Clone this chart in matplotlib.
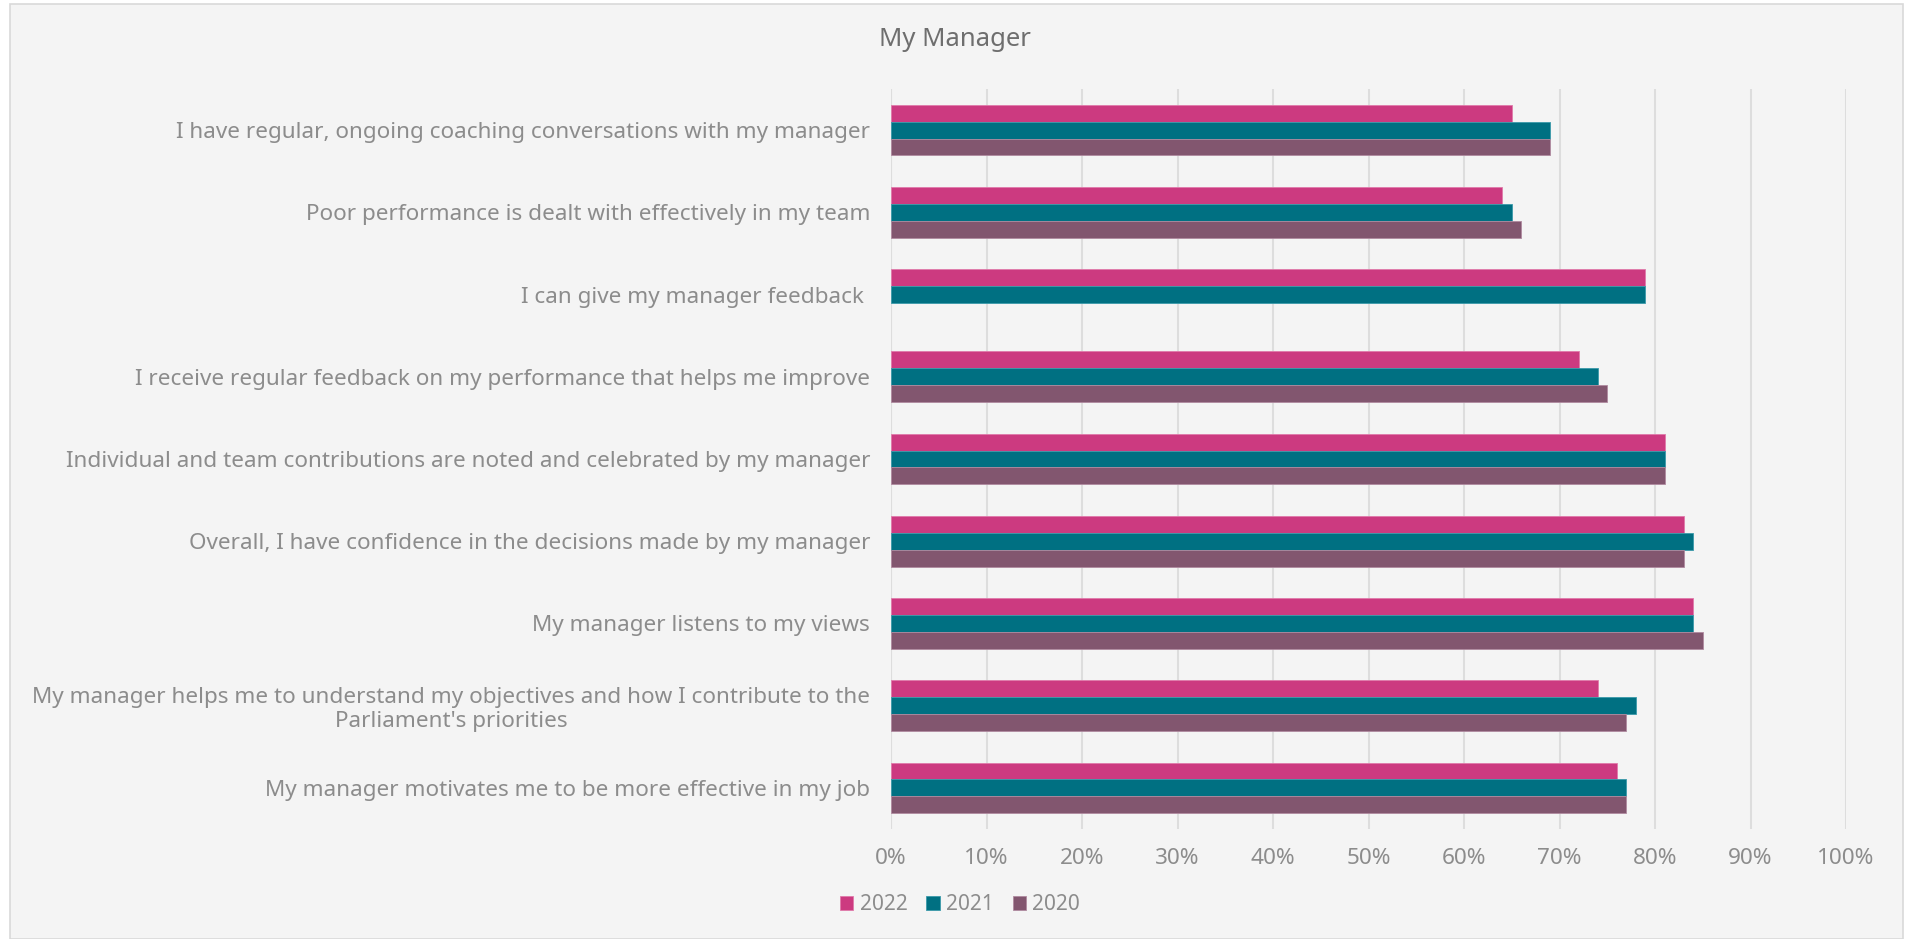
import numpy as np
import matplotlib
matplotlib.use("Agg")
import matplotlib.pyplot as plt
from matplotlib.patches import Rectangle
from matplotlib.ticker import PercentFormatter

questions = [
    "I have regular, ongoing coaching conversations with my manager",
    "Poor performance is dealt with effectively in my team",
    "I can give my manager feedback ",
    "I receive regular feedback on my performance that helps me improve",
    "Individual and team contributions are noted and celebrated by my manager",
    "Overall, I have confidence in the decisions made by my manager",
    "My manager listens to my views",
    "My manager helps me to understand my objectives and how I contribute to the\nParliament's priorities",
    "My manager motivates me to be more effective in my job",
]
years = ["2022", "2021", "2020"]
v2022 = [0.65, 0.64, 0.79, 0.72, 0.81, 0.83, 0.84, 0.74, 0.76]
v2021 = [0.69, 0.65, 0.79, 0.74, 0.81, 0.84, 0.84, 0.78, 0.77]
v2020 = [0.69, 0.66, np.nan, 0.75, 0.81, 0.83, 0.85, 0.77, 0.77]
colors = ["#CC3A80", "#007082", "#82566F"]
edges = ["#E07AAA", "#3A9AAA", "#B08AA0"]

BG = "#F4F4F4"
TXT = "#8C8C8C"

plt.rcParams["font.family"] = ["Noto Sans", "DejaVu Sans"]

W, H = 1905, 939
fig = plt.figure(figsize=(W / 100, H / 100), dpi=100, facecolor="white")
fig.patches.append(Rectangle((10 / W, 0), (1903 - 10) / W, (H - 4) / H,
                             transform=fig.transFigure, facecolor=BG,
                             edgecolor="#D9D9D9", linewidth=1.2, zorder=-10))

ax = fig.add_axes([891 / W, 1 - 829 / H, (1846 - 891) / W, (829 - 89) / H])
ax.set_facecolor("none")

y = np.arange(len(questions))
bh = 0.205
for i, (vals, c, e, lab) in enumerate(zip([v2022, v2021, v2020], colors, edges, years)):
    ax.barh(y + (i - 1) * bh, vals, height=bh, color=c, edgecolor=e,
            linewidth=0.6, label=lab, zorder=3)

ax.set_xlim(0, 1.0)
ax.set_ylim(len(questions) - 0.5, -0.5)
ax.set_xticks(np.arange(0, 1.01, 0.1))
ax.xaxis.set_major_formatter(PercentFormatter(1.0, decimals=0))
ax.set_yticks(y)
ax.set_yticklabels(questions)
for t in ax.get_yticklabels():
    t.set_multialignment("center")

ax.grid(axis="x", color="#DDDDDD", linewidth=1.5, zorder=0)
ax.tick_params(axis="both", length=0, colors=TXT, labelsize=16.2)
ax.tick_params(axis="x", pad=14)
ax.tick_params(axis="y", pad=15)
for t in ax.get_xticklabels() + ax.get_yticklabels():
    t.set_fontweight("light")
for s in ax.spines.values():
    s.set_visible(False)
ax.axvline(0, color="#DDDDDD", linewidth=1.5, zorder=2)

fig.text(955 / W, 1 - 40 / H, "My Manager", ha="center", va="center",
         fontsize=18.5, color="#6E6E6E", fontweight="light")

leg = fig.legend(loc="center", bbox_to_anchor=(960 / W, 1 - 905 / H), ncol=3,
                 frameon=False, fontsize=15, handlelength=0.65, handleheight=0.65,
                 handletextpad=0.3, columnspacing=0.9)
for t in leg.get_texts():
    t.set_color(TXT)
    t.set_fontweight("light")

fig.savefig("out.png", dpi=100, facecolor=fig.get_facecolor())
